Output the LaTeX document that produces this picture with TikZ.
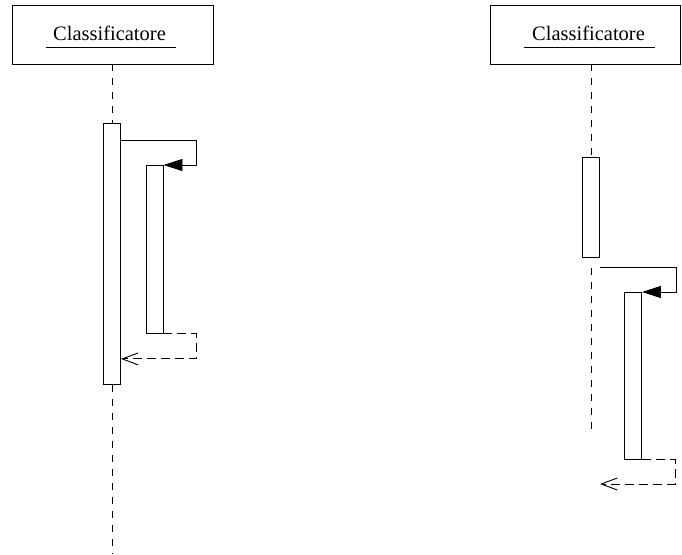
\documentclass[tikz,border=0pt]{standalone}
\usepackage{fontspec}
\setmainfont{Liberation Serif}
\usepackage{tikz}
\usetikzlibrary{arrows.meta,positioning}

\begin{document}
\begin{tikzpicture}[x=1pt, y=-1pt, line width=0.9pt,
	object/.style={
		rectangle, draw, minimum height=59pt, inner sep=0pt},
	objname/.style={
		inner sep=0pt, font=\fontsize{20.5}{24}\selectfont, anchor=base},
	activation/.style={
		rectangle, draw, fill=white, minimum width=17pt, inner sep=0pt, anchor=north},
	lifeline/.style={dash pattern=on 7pt off 7pt},
	call/.style={-{Triangle[length=19pt,width=12pt]}},
	reply/.style={dash pattern=on 9pt off 5pt, -{Straight Barb[length=16pt,width=12pt]}}]
	\useasboundingbox (0,0) rectangle (682,554);
	% left object
	\node (C1) [object, minimum width=201pt] at (112.5,34.5) {};
	\node (N1) [objname] at (109.5,40) {Classificatore};
	\draw ([xshift=-7pt,yshift=-7pt]N1.base west) -- ([xshift=10pt,yshift=-7pt]N1.base east);
	\node (A1) [activation, minimum height=261pt] at (112,123) {};
	\node (A2) [activation, minimum height=168pt] at (154.5,165) {};
	\coordinate (E1) at (112,554);
	\draw[lifeline] (C1.south -| A1.north) -- (A1.north);
	\draw[lifeline] (A1.south) -- (E1);
	\draw[call] ([yshift=-17pt]A1.north east) -- ++(75pt,0) |- (A2.north east);
	\draw[reply] (A2.south east) -- ++(33pt,0) |- ([yshift=26pt]A1.south east);
	% right object
	\node (C2) [object, minimum width=190pt] at (585,34.5) {};
	\node (N2) [objname] at (588.5,40) {Classificatore};
	\draw ([xshift=-8pt,yshift=-7pt]N2.base west) -- ([xshift=10pt,yshift=-7pt]N2.base east);
	\node (B1) [activation, minimum height=100pt] at (591,157) {};
	\node (B2) [activation, minimum height=167pt] at (633,292) {};
	\coordinate (E2) at (591,434);
	\coordinate (R2) at (600,484);
	\draw[lifeline] (C2.south -| B1.north) -- (B1.north);
	\draw[lifeline] ([yshift=-10pt]B1.south) -- (E2);
	\draw[call] ([yshift=-10pt]B1.south east) -- ++(76pt,0) |- (B2.north east);
	\draw[reply] (B2.south east) -- ++(33pt,0) |- (R2);
\end{tikzpicture}
\end{document}
